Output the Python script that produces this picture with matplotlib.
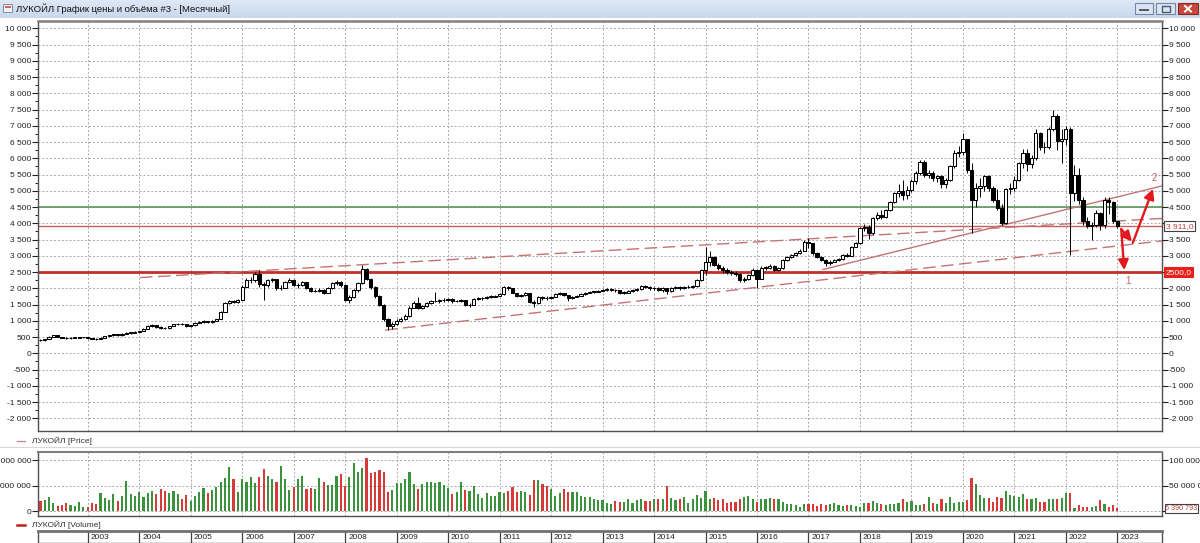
import matplotlib
matplotlib.use("Agg")
import matplotlib.pyplot as plt
from matplotlib.patches import Rectangle, FancyArrowPatch
from matplotlib.lines import Line2D
from matplotlib.colors import LinearSegmentedColormap
import matplotlib.transforms as mtransforms
import numpy as np

# ---------------- data (monthly candles, oldest first) ----------------
first_open = 420
monthly_close = [
    400, 430, 510, 550, 500, 480, 470, 475, 480, 490, 490, 460,
    450, 430, 480, 530, 560, 580, 550, 600, 630, 630, 660, 685,
    757, 840, 860, 810, 790, 770, 840, 890, 910, 890, 840, 860,
    940, 960, 980, 950, 990, 1050, 1280, 1550, 1600, 1580, 1650, 2050,
    2250, 2250, 2450, 2120, 2100, 2250, 2280, 2000, 2020, 2200, 2270, 2100,
    2100, 2180, 2020, 1920, 1920, 1950, 1850, 2000, 2150, 2200, 2100, 1650,
    1720, 1950, 2150, 2600, 2300, 2050, 1750, 1500, 1050, 850, 900, 1000,
    1050, 1150, 1400, 1550, 1380, 1450, 1550, 1600, 1620, 1630, 1650, 1665,
    1600, 1615, 1630, 1480, 1500, 1670, 1690, 1690, 1740, 1740, 1770, 1810,
    2030, 2000, 1860, 1760, 1790, 1840, 1590, 1550, 1720, 1710, 1700, 1730,
    1820, 1840, 1790, 1690, 1740, 1770, 1810, 1870, 1890, 1890, 1920, 1960,
    1960, 1960, 1940, 1860, 1870, 1920, 1940, 1970, 2070, 2050, 2000, 2010,
    1950, 2000, 1915, 2000, 2030, 2000, 2030, 2050, 2070, 2250, 2560, 2820,
    2950, 2720, 2610, 2560, 2510, 2480, 2440, 2250, 2300, 2400, 2560, 2300,
    2640, 2640, 2690, 2560, 2610, 2870, 2970, 3020, 3080, 3150, 3440, 3380,
    3080, 2970, 2870, 2770, 2820, 2870, 2890, 3020, 3000, 3280, 3380, 3850,
    3900, 3700, 4150, 4250, 4200, 4410, 4670, 4930, 5000, 4880, 5035, 5290,
    5550, 5900, 5500, 5560, 5400, 5450, 5200, 5330, 5750, 6170, 6190, 6580,
    5650, 4730, 5090, 5150, 5450, 5090, 4730, 4470, 4000, 5060, 5100, 5340,
    5860, 6170, 5810, 6010, 6780, 6350, 6340, 6890, 7300, 6530, 6600, 6890,
    4930, 5500, 4730, 4060, 3920, 3950, 4310, 3960, 4730, 4650, 4060, 3911,
]
monthly_high = [
    440, 445, 520, 570, 560, 510, 495, 490, 495, 505, 510, 495,
    475, 460, 490, 540, 575, 600, 590, 610, 650, 660, 675, 700,
    770, 860, 900, 870, 830, 800, 850, 900, 940, 930, 900, 880,
    960, 990, 1010, 990, 1010, 1070, 1300, 1580, 1650, 1640, 1680, 2100,
    2320, 2350, 2500, 2560, 2200, 2300, 2330, 2300, 2100, 2230, 2320, 2290,
    2150, 2230, 2200, 2050, 1980, 2000, 1970, 2030, 2180, 2250, 2230, 2120,
    1800, 1980, 2180, 2720, 2620, 2320, 2080, 1780, 1520, 1100, 960, 1050,
    1120, 1200, 1450, 1600, 1720, 1500, 1580, 1630, 1900, 1680, 1700, 1700,
    1690, 1650, 1660, 1650, 1560, 1700, 1720, 1730, 1770, 1780, 1800, 1840,
    2060, 2080, 2010, 1870, 1820, 1880, 1850, 1640, 1750, 1760, 1750, 1760,
    1850, 1900, 1860, 1800, 1770, 1800, 1840, 1890, 1920, 1930, 1950, 1990,
    2000, 2010, 1990, 1960, 1920, 1950, 1980, 2000, 2090, 2100, 2070, 2040,
    2040, 2030, 2010, 2040, 2080, 2060, 2070, 2090, 2110, 2280, 2600, 3280,
    3150, 2980, 2780, 2680, 2620, 2560, 2530, 2470, 2360, 2450, 2620, 2600,
    2700, 2700, 2750, 2720, 2650, 2900, 3000, 3050, 3120, 3200, 3480, 3540,
    3400, 3120, 3000, 2900, 2860, 2900, 2930, 3060, 3080, 3300, 3420, 3900,
    3990, 3950, 4200, 4350, 4420, 4450, 4700, 4970, 5200, 5330, 5150, 5350,
    5600, 5950, 5960, 5640, 5600, 5500, 5480, 5400, 5800, 6250, 6380, 6784,
    6600, 5850, 5250, 5400, 5500, 5500, 5150, 5050, 4600, 5100, 5250, 5450,
    5900, 6300, 6300, 6100, 6900, 6800, 6500, 6950, 7500, 7350, 6900, 7000,
    6950, 5800, 5700, 4800, 4200, 4050, 4400, 4350, 4800, 4800, 4700, 4080,
]
monthly_low = [
    385, 390, 425, 495, 490, 465, 455, 455, 465, 470, 475, 450,
    440, 420, 425, 475, 520, 545, 535, 545, 590, 600, 620, 650,
    680, 750, 820, 790, 750, 740, 760, 830, 870, 860, 820, 820,
    850, 920, 930, 920, 940, 980, 1050, 1270, 1520, 1540, 1560, 1640,
    2040, 2150, 2200, 2050, 1650, 2050, 2180, 1960, 1940, 2000, 2150, 2070,
    2020, 2060, 1990, 1880, 1880, 1890, 1820, 1840, 1980, 2100, 2050, 1620,
    1560, 1700, 1900, 2120, 2250, 1980, 1700, 1450, 1000, 720, 760, 880,
    950, 1020, 1120, 1380, 1350, 1350, 1430, 1530, 1570, 1560, 1580, 1610,
    1560, 1570, 1590, 1440, 1420, 1490, 1640, 1650, 1680, 1700, 1720, 1760,
    1800, 1940, 1840, 1720, 1720, 1760, 1560, 1420, 1530, 1650, 1640, 1670,
    1720, 1790, 1760, 1600, 1660, 1720, 1750, 1800, 1850, 1850, 1880, 1910,
    1920, 1920, 1900, 1820, 1830, 1850, 1900, 1920, 1950, 2010, 1960, 1960,
    1930, 1880, 1820, 1880, 1990, 1960, 1970, 2000, 2020, 2050, 2230, 2400,
    2700, 2680, 2560, 2480, 2450, 2420, 2390, 2200, 2180, 2260, 2380, 2000,
    2280, 2560, 2600, 2540, 2520, 2600, 2850, 2930, 2990, 3050, 3150, 3250,
    3040, 2920, 2840, 2700, 2730, 2800, 2840, 2880, 2960, 2990, 3260, 3360,
    3760, 3530, 3650, 4090, 4130, 4150, 4370, 4620, 4800, 4720, 4740, 4950,
    5200, 5480, 5420, 5400, 5300, 5280, 5100, 5100, 5300, 5700, 6050, 6100,
    5550, 3700, 4500, 4800, 5000, 5000, 4650, 4400, 3950, 3990, 4900, 5000,
    5300, 5700, 5600, 5700, 5950, 6250, 6150, 6300, 6850, 6250, 5850, 6400,
    3030, 4700, 4600, 3950, 3850, 3500, 3880, 3800, 3850, 4300, 4000, 3850,
]
# monthly volume, millions of shares
monthly_volume_m = [
    19, 21, 27, 16, 10, 12, 16, 11, 10, 18, 8, 8, 15, 14, 35, 25, 22, 34, 19, 30,
    59, 33, 29, 38, 27, 35, 40, 33, 43, 40, 35, 40, 34, 24, 32, 20, 29, 38, 46, 36,
    42, 48, 56, 64, 86, 62, 37, 62, 56, 66, 55, 66, 82, 69, 62, 56, 88, 63, 42, 48,
    62, 68, 43, 45, 43, 64, 56, 51, 51, 69, 73, 49, 66, 95, 77, 84, 103, 74, 76, 80,
    76, 38, 42,
    54, 54, 62, 77, 53, 43, 52, 56, 56, 55, 56, 51, 46, 33, 37, 57, 41, 40, 50, 33,
    26, 35, 30, 29, 37, 36, 40, 48, 37, 40, 38, 32, 61, 60, 53, 50, 43, 29, 36, 43,
    38, 38, 38, 29, 28, 28, 24, 22, 22, 15, 14, 20, 17, 18, 23, 16, 22, 24, 20, 19,
    23, 24, 24, 49, 26, 22, 23, 27, 16, 24, 31, 25, 40, 23, 25, 22, 24, 16, 18, 18,
    24, 28, 30, 23, 17, 23, 24, 25, 24, 23, 17, 13, 13, 12, 8.5,
    14, 14, 14, 10, 14, 12, 14, 16, 12, 10, 12, 12, 10, 8, 16, 15, 19, 15, 14, 12,
    14, 14, 15, 23, 18, 20, 12, 11, 14, 28, 16, 14, 23, 16, 27, 16, 18, 18, 21, 64,
    52, 31, 26, 25, 18, 28, 25, 39, 32, 30, 27, 33, 23, 23, 26, 18, 17, 23, 23, 23,
    26, 36, 36, 5, 12, 8, 8, 8, 10, 21, 14, 8, 12, 5.390793,
]
years = list(range(2003, 2024))
first_january_index = 11          # candle index where the 2003 grid line sits
price_ticks = list(range(-2000, 10001, 500))
price_right_hidden = [2500, 4000]  # covered by the level boxes on the right
volume_ticks_m = [0, 50, 100]
level_green = 4500.0
level_last = 3911.0
level_support = 2500.0
# hand-drawn trend lines: (candle index, price)
upper_channel = [(23.2, 2330), (261.4, 4150)]
lower_channel = [(80.3, 715), (261.4, 3460)]
rising_line = [(182.4, 2580), (261.4, 5150)]
arrow_1 = [(251.9, 3820), (252.6, 2560)]
arrow_2a = [(251.9, 3820), (254.4, 3440)]
arrow_2b = [(254.6, 3400), (259.3, 5060)]
label_1 = (253.4, 2230, "1")
label_2 = (259.6, 5400, "2")
title = "ЛУКОЙЛ График цены и объёма #3 - [Месячный]"

# ---------------- figure ----------------
W, H = 1200, 543
fig = plt.figure(figsize=(W / 100, H / 100), dpi=100)
fig.patch.set_facecolor("white")
plt.rcParams["font.family"] = ["Liberation Sans", "DejaVu Sans"]

def rect(x0, y0, x1, y1):
    return [x0 / W, 1 - y1 / H, (x1 - x0) / W, (y1 - y0) / H]

XMIN, XMAX = -0.58, 261.4
ax_p = fig.add_axes(rect(38, 21, 1162, 431))
ax_v = fig.add_axes(rect(38, 452, 1162, 516))
ax_d = fig.add_axes(rect(38, 531, 1162, 543))

n = len(monthly_close)
idx = np.arange(n)
opens = [first_open] + monthly_close[:-1]
year_pos = [first_january_index + 12 * k for k in range(len(years))]

grid_kw = dict(color="#a8a8a8", linestyle=(0, (2, 2)), linewidth=0.7, zorder=0.5)
tick_col = "#222222"

def fmt(v):
    s = f"{abs(int(round(v))):,}".replace(",", " ")
    return ("-" if v < 0 else "") + s

def style_spines(ax, top_w):
    for sp in ax.spines.values():
        sp.set_color("#505050")
        sp.set_linewidth(1.0)
    ax.spines["top"].set_color("#808080")
    ax.spines["top"].set_linewidth(top_w)

# ---- price panel ----
ax_p.set_xlim(XMIN, XMAX)
ax_p.set_ylim(-2391, 10225)
for t in price_ticks:
    ax_p.axhline(t, **grid_kw)
for xp in year_pos:
    ax_p.axvline(xp, **grid_kw)

ax_p.axhline(level_green, color="#4f8f4f", lw=1.1, zorder=1.5)
ax_p.axhline(level_last, color="#c46060", lw=1.0, zorder=1.5)
ax_p.axhline(level_support, color="#c0302a", lw=2.0, zorder=1.5)

def seg(ax, pts, **kw):
    ax.plot([p[0] for p in pts], [p[1] for p in pts], **kw)

dash_col = "#c47373"
seg(ax_p, upper_channel, color=dash_col, lw=1.0, linestyle=(0, (9, 4)), zorder=1.6)
seg(ax_p, lower_channel, color=dash_col, lw=1.0, linestyle=(0, (9, 4)), zorder=1.6)
seg(ax_p, rising_line, color=dash_col, lw=1.0, zorder=1.6)

# candles
lo_w = [min(l, o, c) for l, o, c in zip(monthly_low, opens, monthly_close)]
hi_w = [max(h, o, c) for h, o, c in zip(monthly_high, opens, monthly_close)]
ax_p.vlines(idx, lo_w, hi_w, color="black", lw=0.7, zorder=2)
up = np.array(monthly_close) >= np.array(opens)
bottoms = np.minimum(opens, monthly_close)
heights = np.maximum(np.abs(np.array(monthly_close) - np.array(opens)), 12)
ax_p.bar(idx[up], heights[up], bottom=bottoms[up], width=0.74,
         facecolor="white", edgecolor="black", linewidth=0.75, zorder=3)
ax_p.bar(idx[~up], heights[~up], bottom=bottoms[~up], width=0.74,
         facecolor="black", edgecolor="black", linewidth=0.75, zorder=3)

# arrows
arrow_col = "#e3181c"
for a in (arrow_1, arrow_2a, arrow_2b):
    ax_p.add_patch(FancyArrowPatch(a[0], a[1], arrowstyle="-|>,head_length=6,head_width=3",
                                   color=arrow_col, lw=1.7, zorder=6,
                                   shrinkA=0, shrinkB=0, mutation_scale=1))
for lx, ly, lt in (label_1, label_2):
    ax_p.text(lx, ly, lt, color="#c46060", fontsize=7, ha="center", va="center", zorder=6)

ax_p.set_yticks(price_ticks)
ax_p.set_yticklabels([fmt(t) for t in price_ticks])
ax_p.set_yticks([t + 250 for t in price_ticks[:-1]], minor=True)
ax_p.set_xticks([])
ax_p.tick_params(axis="y", which="major", left=True, right=True, labelleft=True,
                 labelright=False, direction="out", length=4, width=0.8,
                 labelsize=6, pad=1, colors=tick_col)
ax_p.tick_params(axis="y", which="minor", left=True, right=True, direction="out",
                 length=2, width=0.7, colors=tick_col)
style_spines(ax_p, 1.8)

# right-hand labels (the level boxes cover two of them)
ax_pr = ax_p.twinx()
ax_pr.set_ylim(ax_p.get_ylim())
ax_pr.set_yticks(price_ticks)
ax_pr.set_yticklabels(["" if t in price_right_hidden else fmt(t) for t in price_ticks])
ax_pr.tick_params(axis="y", which="major", right=True, direction="out", length=4,
                  width=0.8, labelsize=6, pad=1, colors=tick_col)
ax_pr.tick_params(axis="y", which="minor", right=False)
for sp in ax_pr.spines.values():
    sp.set_visible(False)

bt = mtransforms.blended_transform_factory(ax_pr.transAxes, ax_pr.transData)
ax_pr.text(1.0035, level_last, "3 911,0", transform=bt, ha="left", va="center",
           fontsize=6, color="#c04040", zorder=8, clip_on=False,
           bbox=dict(boxstyle="square,pad=0.18", fc="white", ec="#404040", lw=0.8))
ax_pr.text(1.0035, level_support, "2500,0", transform=bt, ha="left", va="center",
           fontsize=6, color="white", zorder=8, clip_on=False,
           bbox=dict(boxstyle="square,pad=0.18", fc="#e8201c", ec="#e8201c", lw=0.8))

# ---- volume panel ----
ax_v.set_xlim(XMIN, XMAX)
ax_v.set_ylim(-9.8, 115.7)
for t in volume_ticks_m:
    ax_v.axhline(t, **grid_kw)
for xp in year_pos:
    ax_v.axvline(xp, **grid_kw)
vcol = np.where(up, "#3a933a", "#d83a3a")
ax_v.bar(idx, monthly_volume_m, width=0.5, color=vcol, zorder=2)
ax_v.set_yticks(volume_ticks_m)
ax_v.set_yticklabels([fmt(t * 1_000_000) for t in volume_ticks_m])
ax_v.set_xticks([])
ax_v.tick_params(axis="y", left=True, right=True, labelleft=True, labelright=False,
                 direction="out", length=4, width=0.8, labelsize=6, pad=1,
                 colors=tick_col)
style_spines(ax_v, 1.5)
ax_vr = ax_v.twinx()
ax_vr.set_ylim(ax_v.get_ylim())
ax_vr.set_yticks(volume_ticks_m)
ax_vr.set_yticklabels(["" if t == 0 else fmt(t * 1_000_000) for t in volume_ticks_m])
ax_vr.tick_params(axis="y", right=True, direction="out", length=4, width=0.8,
                  labelsize=6, pad=1, colors=tick_col)
for sp in ax_vr.spines.values():
    sp.set_visible(False)
bv = mtransforms.blended_transform_factory(ax_vr.transAxes, ax_vr.transData)
ax_vr.text(1.0030, monthly_volume_m[-1], fmt(monthly_volume_m[-1] * 1_000_000),
           transform=bv, ha="left", va="center", fontsize=5.2, color="#c04040",
           zorder=8, clip_on=False,
           bbox=dict(boxstyle="square,pad=0.12", fc="white", ec="#404040", lw=0.8))

# ---- date strip ----
ax_d.set_xlim(XMIN, XMAX)
ax_d.set_ylim(0, 1)
ax_d.set_xticks([])
ax_d.set_yticks([])
for sp in ("left", "right", "bottom"):
    ax_d.spines[sp].set_color("#505050")
    ax_d.spines[sp].set_linewidth(1.0)
ax_d.spines["top"].set_color("#707070")
ax_d.spines["top"].set_linewidth(2.0)
for xp, yr in zip(year_pos, years):
    ax_d.axvline(xp, color="#404040", lw=0.9)
    ax_d.text(xp + 0.7, 0.45, str(yr), fontsize=6, ha="left", va="center", color=tick_col)

# ---- legends between panels ----
fig.add_artist(Line2D([17 / W, 25 / W], [1 - 441 / H] * 2, color="#c88080", lw=0.9))
fig.text(32 / W, 1 - 441 / H, "ЛУКОЙЛ [Price]", fontsize=6, va="center", color="#333333")
fig.add_artist(Line2D([0, 1], [1 - 447 / H] * 2, color="#d8d8d8", lw=0.8))
fig.add_artist(Line2D([17 / W, 25 / W], [1 - 525 / H] * 2, color="#c02020", lw=1.8))
fig.text(32 / W, 1 - 525 / H, "ЛУКОЙЛ [Volume]", fontsize=6, va="center", color="#333333")

# ---- window title bar ----
ax_t = fig.add_axes(rect(0, 0, 1200, 18))
grad = np.linspace(0, 1, 30).reshape(-1, 1)
cm = LinearSegmentedColormap.from_list("tb", ["#dfe8f5", "#c8d7ec"])
ax_t.imshow(grad, aspect="auto", cmap=cm, extent=(0, 1200, 18, 0))
ax_t.set_xlim(0, 1200)
ax_t.set_ylim(18, 0)
ax_t.axis("off")
ax_t.add_patch(Rectangle((3, 4), 9, 8, fc="#f2f2f2", ec="#7f8fa8", lw=0.7))
ax_t.add_patch(Rectangle((4.5, 6), 6, 2, fc="#d86a5a", ec="none"))
ax_t.text(16, 8.6, title, fontsize=6.8, va="center", ha="left", color="#111111")
for (x0, x1, fc, ec) in ((1135, 1153, "#dbe4f1", "#7489a8"),
                         (1156, 1175, "#dbe4f1", "#7489a8"),
                         (1178, 1198, "#c9473c", "#8a2a22")):
    ax_t.add_patch(Rectangle((x0, 3), x1 - x0, 11, fc=fc, ec=ec, lw=0.8))
ax_t.plot([1140, 1148], [10, 10], color="#4a5a70", lw=1.4)
ax_t.add_patch(Rectangle((1161.5, 6), 8, 5.5, fc="none", ec="#4a5a70", lw=1.0))
ax_t.plot([1185, 1191], [6, 11.5], color="white", lw=1.4)
ax_t.plot([1185, 1191], [11.5, 6], color="white", lw=1.4)

fig.savefig("out.png", dpi=100, facecolor="white")
